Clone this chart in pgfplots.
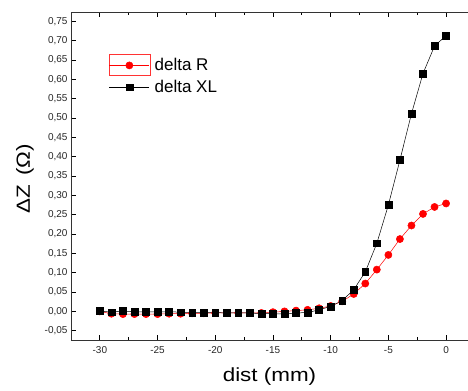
\documentclass[border=0pt]{standalone}
\usepackage{pgfplots}
\pgfplotsset{compat=1.18}
\usepackage{fontspec}
\setmainfont{Liberation Sans}
\newfontfamily\widefont[FakeStretch=1.18]{Liberation Sans}
\begin{document}
\begin{tikzpicture}
\begin{axis}[
  scale only axis,
  width=397pt, height=328pt,
  xmin=-32.5, xmax=1.9,
  ymin=-0.074, ymax=0.774,
  axis x line*=box,
  axis y line*=left,
  axis line style={line width=0.9pt, color=black!80},
  xtick={-30,-25,...,0},
  minor x tick num=1,
  ytick={-0.05,0,0.05,...,0.76},
  minor y tick num=1,
  tick align=inside,
  major tick length=5pt, minor tick length=3pt,
  tick style={line width=0.8pt, color=black},
  ticklabel style={font=\fontsize{10}{12}\selectfont, color=black!85},
  /pgf/number format/assume math mode=true,
  yticklabel style={/pgf/number format/.cd, fixed, fixed zerofill, precision=2, use comma},
  xticklabel style={yshift=-3pt, /pgf/number format/.cd, fixed, precision=0},
  xlabel={dist (mm)},
  ylabel={ΔZ\, (Ω)},
  xlabel style={font=\widefont\fontsize{19}{22}\selectfont, at={(axis description cs:0.5,0)}, anchor=base, yshift=-41.7pt},
  ylabel style={font=\widefont\fontsize{19}{22}\selectfont, at={(axis description cs:-0.116,0.491)}, anchor=center},
  legend style={draw=none, fill=none, at={(axis description cs:0.093,0.868)}, anchor=north west,
    font=\fontsize{17}{19}\selectfont, row sep=4pt, inner sep=1pt,
    /tikz/every odd column/.append style={column sep=3pt}},
  legend cell align=left,
  legend image code/.code={\draw[mark repeat=2, mark phase=2, #1] plot coordinates {(0pt,0pt) (20pt,0pt) (40pt,0pt)};},
]
\addplot[red, line width=0.5pt, mark=*, mark size=3.6pt, mark options={fill=red, draw=red}] coordinates {
(-30,0.000) (-29,-0.006) (-28,-0.007) (-27,-0.007) (-26,-0.007) (-25,-0.007) (-24,-0.006) (-23,-0.006) (-22,-0.005) (-21,-0.005) (-20,-0.004) (-19,-0.004) (-18,-0.004) (-17,-0.004) (-16,-0.004) (-15,-0.002) (-14,0.000) (-13,0.002) (-12,0.004) (-11,0.008) (-10,0.014) (-9,0.026) (-8,0.045) (-7,0.072) (-6,0.108) (-5,0.146) (-4,0.187) (-3,0.222) (-2,0.252) (-1,0.270) (0,0.279)
};
\addlegendentry{delta R}
\addplot[black, line width=0.5pt, mark=square*, mark size=3.4pt, mark options={fill=black}] coordinates {
(-30,0.001) (-29,-0.002) (-28,0.001) (-27,-0.001) (-26,-0.001) (-25,-0.001) (-24,-0.001) (-23,-0.002) (-22,-0.003) (-21,-0.003) (-20,-0.003) (-19,-0.004) (-18,-0.004) (-17,-0.004) (-16,-0.006) (-15,-0.006) (-14,-0.007) (-13,-0.004) (-12,-0.003) (-11,0.004) (-10,0.013) (-9,0.028) (-8,0.056) (-7,0.102) (-6,0.176) (-5,0.275) (-4,0.391) (-3,0.511) (-2,0.615) (-1,0.686) (0,0.713)
};
\addlegendentry{delta XL}
\draw[red!80, line width=0.5pt] (rel axis cs:0.0965,0.806) rectangle (rel axis cs:0.2008,0.871);
\end{axis}
\pgfresetboundingbox
\path[use as bounding box] (current axis.south west) ++(-71pt,-50pt) rectangle ([yshift=12pt]current axis.north east);
\end{tikzpicture}
\end{document}
